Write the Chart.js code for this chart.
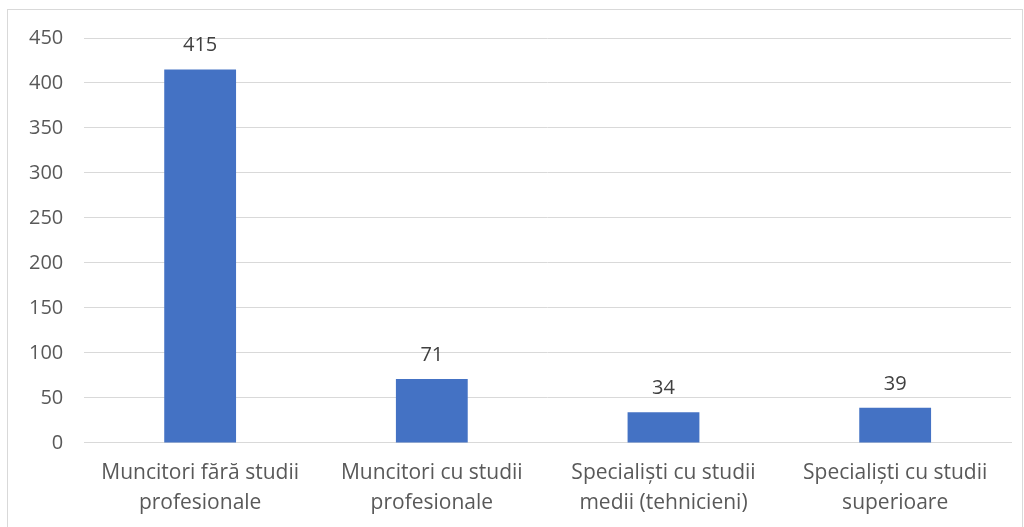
<!DOCTYPE html>
<html>
<head>
<meta charset="utf-8">
<script src="https://cdn.jsdelivr.net/npm/chart.js@4"></script>
<style>
  body { margin: 0; background: #fff; }
  #frame { position: absolute; left: 7px; top: 9px; width: 1014px; height: 530px; border: 1px solid #d9d9d9; }
  #wrap { position: absolute; left: 0; top: 0; width: 1024px; height: 527px; }
</style>
</head>
<body>
<div id="frame"></div>
<div id="wrap"><canvas id="myChart" width="1024" height="527"></canvas></div>
<script>
var categories = [
    ["Muncitori fără studii", "profesionale"],
    ["Muncitori cu studii", "profesionale"],
    ["Specialiști cu studii", "medii (tehnicieni)"],
    ["Specialiști cu studii", "superioare"]
];
var values = [415, 71, 34, 39];
var yTicks = [0, 50, 100, 150, 200, 250, 300, 350, 400, 450];

var font = "'Open Sans', Lato, sans-serif";

// etichete cu valoarea deasupra barelor
var barLabels = {
    id: "barLabels",
    afterDatasetsDraw: function(chart) {
        var ctx = chart.ctx;
        var meta = chart.getDatasetMeta(0);
        ctx.save();
        ctx.fillStyle = "#404040";
        ctx.font = "20px " + font;
        ctx.textAlign = "center";
        ctx.textBaseline = "bottom";
        for (var i = 0; i < meta.data.length; i++) {
            var bar = meta.data[i];
            ctx.fillText(values[i], bar.x, bar.y - 14);
        }
        ctx.restore();
    }
};

new Chart(document.getElementById("myChart"), {
    type: 'bar',
    data: {
        labels: categories,
        datasets: [{
            data: values,
            backgroundColor: "#4472c4",
            categoryPercentage: 1.0,
            barPercentage: 0.31
        }]
    },
    options: {
        responsive: false,
        animation: false,
        layout: { padding: { left: 8, right: 13, top: 38, bottom: 2 } },
        plugins: {
            legend: { display: false },
            tooltip: { enabled: false }
        },
        scales: {
            x: {
                grid: { display: false },
                border: { color: "#d9d9d9", width: 1 },
                ticks: { color: "#595959", font: { family: font, size: 21, lineHeight: 1.43 }, padding: 7, maxRotation: 0 }
            },
            y: {
                min: 0,
                max: 450,
                afterBuildTicks: function(axis) {
                    axis.ticks = yTicks.map(function(v) { return { value: v }; });
                },
                grid: { color: "#d9d9d9", drawTicks: false },
                border: { display: false },
                ticks: { color: "#595959", font: { family: font, size: 20 }, padding: 21 }
            }
        }
    },
    plugins: [barLabels]
});
</script>
</body>
</html>
